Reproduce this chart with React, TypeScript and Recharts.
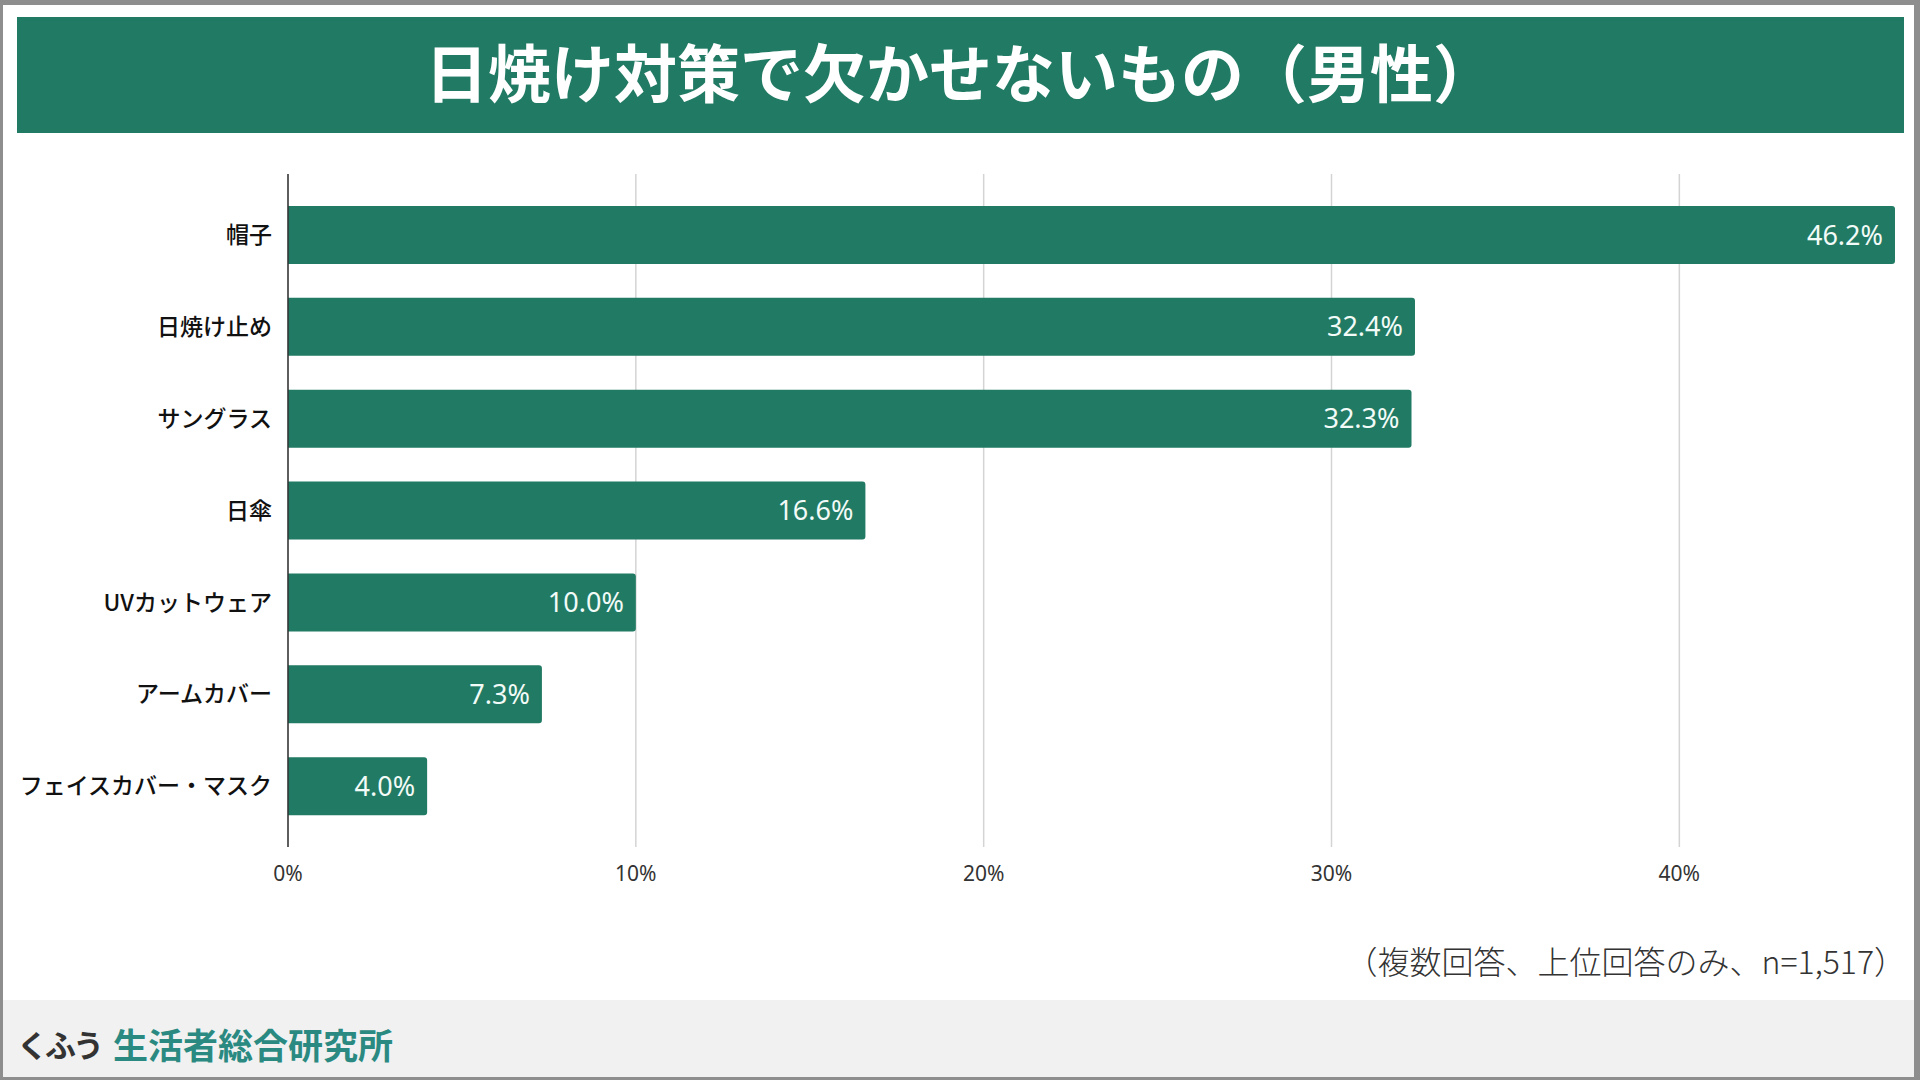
import { BarChart, Bar, XAxis, YAxis, CartesianGrid, LabelList } from 'recharts'

const categories = ['帽子', '日焼け止め', 'サングラス', '日傘', 'UVカットウェア', 'アームカバー', 'フェイスカバー・マスク']
const shares = [46.2, 32.4, 32.3, 16.6, 10.0, 7.3, 4.0]
const xTicks = [0, 10, 20, 30, 40]

const TITLE = '日焼け対策で欠かせないもの（男性）'
const NOTE = '（複数回答、上位回答のみ、n=1,517）'

const GREEN = '#217a64'
const JP = '"Noto Sans CJK JP", "Noto Sans", sans-serif'
const LATIN = '"Noto Sans", "Noto Sans CJK JP", sans-serif'

const data = categories.map((name, i) => ({ name, value: shares[i] }))

export default function App() {
  return (
    <div style={{ position: 'absolute', left: 0, top: 0, width: 1920, height: 1080, background: '#8e8e8e', fontFamily: JP }}>
      <div style={{ position: 'absolute', left: 3, top: 5, width: 1911, height: 1072, background: '#ffffff' }} />

      {/* title band */}
      <div
        style={{
          position: 'absolute', left: 17, top: 17, width: 1887, height: 116, background: GREEN,
          color: '#ffffff', fontSize: 63, fontWeight: 'bold', display: 'flex',
          alignItems: 'center', justifyContent: 'center', paddingBottom: 12, boxSizing: 'border-box',
        }}
      >
        {TITLE}
      </div>

      <div style={{ position: 'absolute', left: 0, top: 0 }}>
        <BarChart width={1920} height={900} data={data} layout="vertical" margin={{ top: 174, right: 25, bottom: 13, left: 0 }}>
          <CartesianGrid horizontal={false} verticalValues={xTicks} stroke="#d4d4d4" strokeWidth={1.5} />
          <XAxis
            type="number"
            domain={[0, 'dataMax']}
            ticks={xTicks}
            tickFormatter={(v) => `${v}%`}
            axisLine={false}
            tickLine={false}
            tickSize={0}
            tickMargin={19}
            height={40}
            tick={{ fill: '#333333', fontSize: 21, fontFamily: LATIN }}
          />
          <YAxis
            type="category"
            dataKey="name"
            width={288}
            axisLine={{ stroke: '#333333', strokeWidth: 1.5 }}
            tickLine={false}
            tickSize={0}
            tickMargin={16}
            padding={{ top: 15, bottom: 15 }}
            tick={{ fill: '#111111', fontSize: 23, fontWeight: 500, fontFamily: JP }}
          />
          <Bar dataKey="value" fill={GREEN} barSize={58} radius={[0, 3, 3, 0]} isAnimationActive={false}>
            <LabelList
              dataKey="value"
              position="insideRight"
              offset={12}
              formatter={(v: number) => `${v.toFixed(1)}%`}
              style={{ fill: '#f2fbf7', fontSize: 27, fontFamily: LATIN }}
            />
          </Bar>
        </BarChart>
      </div>

      {/* sample note */}
      <div style={{ position: 'absolute', right: 1920 - 1906, top: 940, fontSize: 32, color: '#333333', fontWeight: 300, lineHeight: '40px', whiteSpace: 'nowrap' }}>
        {NOTE}
      </div>

      {/* footer */}
      <div style={{ position: 'absolute', left: 3, top: 1000, width: 1911, height: 77, background: '#f1f1f1' }} />
      <div style={{ position: 'absolute', left: 17, top: 1020, height: 46, display: 'flex', alignItems: 'center', fontWeight: 'bold', whiteSpace: 'nowrap' }}>
        <span style={{ fontSize: 31, color: '#333333', letterSpacing: -3 }}>くふう</span>
        <span style={{ fontSize: 35, color: '#2a8a82', marginLeft: 12 }}>生活者総合研究所</span>
      </div>
    </div>
  )
}
